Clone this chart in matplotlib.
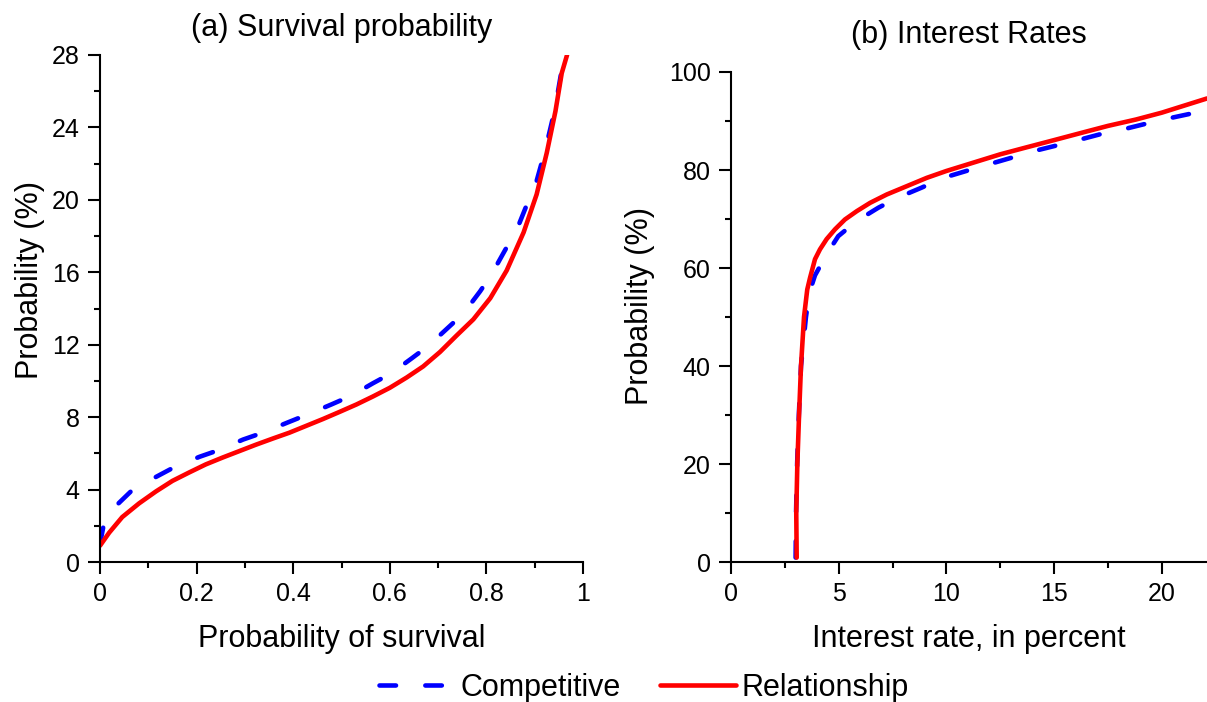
import matplotlib
matplotlib.use("Agg")
import matplotlib.pyplot as plt
import numpy as np

plt.rcParams['font.family'] = ['Liberation Sans', 'DejaVu Sans']

# ---- Panel (a): Survival probability ----
surv_rel_x = [0.0, 0.019, 0.046, 0.081, 0.116, 0.150, 0.185, 0.219, 0.254, 0.289, 0.323, 0.358, 0.392,
              0.427, 0.462, 0.496, 0.531, 0.565, 0.600, 0.635, 0.669, 0.704, 0.738, 0.773, 0.808, 0.842,
              0.877, 0.904, 0.925, 0.943, 0.956, 0.967]
surv_rel_y = [0.9, 1.62, 2.48, 3.24, 3.9, 4.48, 4.95, 5.39, 5.77, 6.13, 6.48, 6.82, 7.14,
              7.52, 7.9, 8.29, 8.7, 9.14, 9.62, 10.19, 10.8, 11.6, 12.5, 13.4, 14.57, 16.1,
              18.2, 20.3, 22.6, 24.9, 27.0, 28.0]

surv_comp_x = [0.0, 0.008, 0.031, 0.064, 0.116, 0.154, 0.206, 0.247, 0.296, 0.337, 0.389, 0.430, 0.479,
               0.520, 0.565, 0.603, 0.645, 0.680, 0.721, 0.752, 0.787, 0.811, 0.839, 0.862, 0.882,
               0.901, 0.915, 0.927, 0.938, 0.947, 0.958, 0.961]
surv_comp_y = [1.0, 2.1, 3.05, 3.9, 4.7, 5.24, 5.81, 6.19, 6.76, 7.14, 7.71, 8.15, 8.7,
               9.18, 9.87, 10.42, 11.24, 11.94, 12.95, 13.71, 14.95, 15.9, 17.24, 18.29, 19.62,
               20.76, 22.1, 23.33, 24.57, 25.8, 27.5, 28.0]

# ---- Panel (b): Interest rates ----
rate_rel_x = [3.05, 3.03, 3.08, 3.16, 3.25, 3.39, 3.54, 3.67, 3.90, 4.13, 4.44, 4.83, 5.29, 5.84, 6.46,
              7.23, 8.16, 9.09, 10.0, 11.25, 12.5, 13.7, 15.0, 16.2, 17.5, 18.8, 20.0, 22.1]
rate_rel_y = [0.9, 10.0, 20.0, 30.0, 40.0, 50.0, 55.6, 58.0, 61.8, 63.8, 65.9, 67.9, 69.9, 71.6, 73.3,
              75.0, 76.7, 78.4, 79.8, 81.5, 83.2, 84.6, 86.1, 87.5, 89.0, 90.3, 91.7, 94.6]

rate_comp_x = [3.0, 3.02, 3.07, 3.15, 3.25, 3.48, 3.64, 3.9, 4.44, 4.98, 5.84, 6.84, 7.77, 8.85, 9.86,
               11.0, 12.0, 13.1, 14.1, 15.3, 16.2, 17.4, 18.4, 19.5, 20.5, 22.1]
rate_comp_y = [0.9, 10.0, 20.0, 30.0, 40.0, 50.0, 55.0, 58.5, 62.8, 66.5, 69.6, 72.3, 74.4, 76.4, 78.4,
               79.9, 81.2, 82.6, 83.9, 85.2, 86.2, 87.6, 88.5, 89.7, 90.7, 92.2]

titles = ["(a) Survival probability", "(b) Interest Rates"]
xlabels = ["Probability of survival", "Interest rate, in percent"]
ylabel = "Probability (%)"
legend_labels = ["Competitive", "Relationship"]

W, H = 1207, 702
fig = plt.figure(figsize=(W / 100, H / 100), dpi=100)

ax1 = fig.add_axes([100 / W, 1 - 562 / H, 483 / W, 507 / H])
ax2 = fig.add_axes([731 / W, 1 - 562 / H, 476 / W, 490 / H])

blue = '#0000ff'
red = '#ff0000'
lw = 3.3
dash = (0, (3.6, 6.4))

l1, = ax1.plot(surv_comp_x, surv_comp_y, color=blue, lw=lw, ls=dash, dash_capstyle='round',
               solid_joinstyle='round', label=legend_labels[0])
l2, = ax1.plot(surv_rel_x, surv_rel_y, color=red, lw=lw, solid_capstyle='round',
               solid_joinstyle='round', label=legend_labels[1])
ax2.plot(rate_comp_x, rate_comp_y, color=blue, lw=lw, ls=dash, dash_capstyle='round', solid_joinstyle='round')
ax2.plot(rate_rel_x, rate_rel_y, color=red, lw=lw, solid_capstyle='round', solid_joinstyle='round')

ax1.set_xlim(0, 1)
ax1.set_ylim(0, 28)
ax1.set_xticks(np.arange(0, 1.01, 0.2))
ax1.set_xticklabels(['0', '0.2', '0.4', '0.6', '0.8', '1'])
ax1.set_xticks(np.arange(0.1, 1.0, 0.2), minor=True)
ax1.set_yticks(np.arange(0, 29, 4))
ax1.set_yticks(np.arange(2, 28, 4), minor=True)

ax2.set_xlim(0, 22.1)
ax2.set_ylim(0, 100)
ax2.set_xticks([0, 5, 10, 15, 20])
ax2.set_xticks([2.5, 7.5, 12.5, 17.5], minor=True)
ax2.set_yticks(np.arange(0, 101, 20))
ax2.set_yticks(np.arange(10, 100, 20), minor=True)

for ax, t, xl, ty in zip([ax1, ax2], titles, xlabels, [1.053, 1.0755]):
    for s in ['top', 'right']:
        ax.spines[s].set_visible(False)
    for s in ['left', 'bottom']:
        ax.spines[s].set_linewidth(1.5)
    ax.tick_params(which='major', direction='out', length=8.5, width=1.5, labelsize=18, pad=6)
    ax.tick_params(which='minor', direction='out', length=4.5, width=1.5)
    ax.set_title(t, fontsize=22, y=ty, va='center', pad=0)
    ax.set_xlabel(xl, fontsize=22, labelpad=13)
    ax.set_ylabel(ylabel, fontsize=22)

ax1.yaxis.set_label_coords(-0.114, 0.556)
ax2.yaxis.set_label_coords(-0.16, 0.522)

fig.legend(handles=[l1, l2], labels=legend_labels, loc='center', bbox_to_anchor=(644 / W, 1 - 688 / H),
           ncol=2, frameon=False, fontsize=22, handlelength=2.46, handletextpad=0.2, columnspacing=1.3,
           borderpad=0, borderaxespad=0)

fig.savefig('out.png', dpi=100)
